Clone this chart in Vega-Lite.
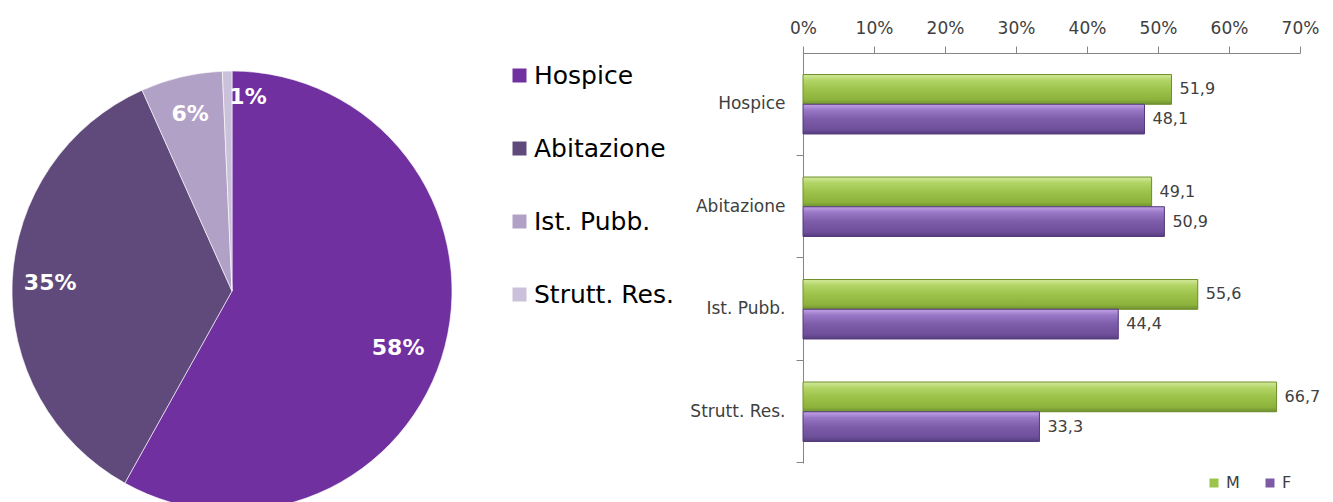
{
  "$schema": "https://vega.github.io/schema/vega-lite/v6.json",
  "padding": {"left": 10, "top": 19, "right": 0, "bottom": 0},
  "background": "white",
  "bounds": "flush",
  "spacing": 351,
  "config": {
    "view": {"stroke": null},
    "font": "DejaVu Sans",
    "locale": {"number": {"decimal": ",", "thousands": ".", "grouping": [3], "currency": ["€", ""]}}
  },
  "resolve": {"scale": {"color": "independent"}, "legend": {"color": "independent"}},
  "hconcat": [
    {
      "width": 440,
      "height": 476,
      "data": {"values": [
        {"luogo": "Hospice", "quota": 0.581, "ordine": 1},
        {"luogo": "Abitazione", "quota": 0.352, "ordine": 2},
        {"luogo": "Ist. Pubb.", "quota": 0.060, "ordine": 3},
        {"luogo": "Strutt. Res.", "quota": 0.007, "ordine": 4}
      ]},
      "encoding": {
        "theta": {"field": "quota", "type": "quantitative", "stack": true},
        "order": {"field": "ordine", "type": "quantitative", "sort": "ascending"}
      },
      "layer": [
        {
          "mark": {"type": "arc", "outerRadius": 220, "stroke": "#ffffff", "strokeWidth": 0.6},
          "encoding": {
            "color": {
              "field": "luogo", "type": "nominal",
              "scale": {"domain": ["Hospice", "Abitazione", "Ist. Pubb.", "Strutt. Res."], "range": ["#7030A0", "#604A7B", "#B2A1C7", "#CCC1DA"]},
              "legend": {
                "title": null, "orient": "none", "legendX": 495, "legendY": 10,
                "symbolType": "square", "symbolSize": 196, "symbolStrokeWidth": 0,
                "labelFontSize": 25, "labelColor": "#000000", "labelFont": "DejaVu Sans",
                "labelLimit": 400, "labelOffset": 2, "rowPadding": 47, "padding": 0
              }
            }
          }
        },
        {
          "mark": {"type": "text", "radius": 182, "fontSize": 22, "fontWeight": "bold", "fill": "#ffffff"},
          "encoding": {"text": {"condition": {"test": "datum.ordine == 2 || datum.ordine == 3", "field": "quota", "type": "quantitative", "format": ".0%"}, "value": ""}}
        },
        {
          "mark": {"type": "text", "radius": 182, "fontSize": 22, "fontWeight": "bold", "fill": "#ffffff", "dx": -10, "dy": 11},
          "encoding": {"text": {"condition": {"test": "datum.ordine == 1", "field": "quota", "type": "quantitative", "format": ".0%"}, "value": ""}}
        },
        {
          "mark": {"type": "text", "radius": 182, "fontSize": 22, "fontWeight": "bold", "fill": "#ffffff", "dx": 20, "dy": -12},
          "encoding": {"text": {"condition": {"test": "datum.ordine == 4", "field": "quota", "type": "quantitative", "format": ".0%"}, "value": ""}}
        }
      ]
    },
    {
      "width": 497,
      "height": 410,
      "data": {"values": [
        {"luogo": "Hospice", "sesso": "M", "perc": 51.9},
        {"luogo": "Hospice", "sesso": "F", "perc": 48.1},
        {"luogo": "Abitazione", "sesso": "M", "perc": 49.1},
        {"luogo": "Abitazione", "sesso": "F", "perc": 50.9},
        {"luogo": "Ist. Pubb.", "sesso": "M", "perc": 55.6},
        {"luogo": "Ist. Pubb.", "sesso": "F", "perc": 44.4},
        {"luogo": "Strutt. Res.", "sesso": "M", "perc": 66.7},
        {"luogo": "Strutt. Res.", "sesso": "F", "perc": 33.3}
      ]},
      "encoding": {
        "y": {
          "field": "luogo", "type": "nominal",
          "sort": ["Hospice", "Abitazione", "Ist. Pubb.", "Strutt. Res."],
          "scale": {"paddingInner": 0.42, "paddingOuter": 0.21},
          "axis": {
            "title": null, "bandPosition": 1.362, "tickSize": 7, "labelPadding": 11,
            "labelFontSize": 17, "labelColor": "#404040", "labelFont": "DejaVu Sans",
            "domainColor": "#868686", "tickColor": "#868686", "grid": false
          }
        },
        "yOffset": {"field": "sesso", "type": "nominal", "sort": ["M", "F"], "scale": {"paddingInner": 0, "paddingOuter": 0}},
        "x": {
          "field": "perc", "type": "quantitative",
          "scale": {"domain": [0, 70], "nice": false},
          "axis": {
            "orient": "top", "title": null, "values": [0, 10, 20, 30, 40, 50, 60, 70],
            "labelExpr": "datum.value + '%'", "labelFlush": false, "grid": false, "tickSize": 7, "labelPadding": 9,
            "labelFontSize": 17, "labelColor": "#404040", "labelFont": "DejaVu Sans",
            "domainColor": "#868686", "tickColor": "#868686"
          }
        }
      },
      "layer": [
        {
          "mark": {"type": "bar"},
          "encoding": {
            "color": {
              "field": "sesso", "type": "nominal",
              "scale": {"domain": ["M", "F"], "range": ["#9CC34B", "#7D5AA6"]},
              "legend": {
                "title": null, "orient": "none", "direction": "horizontal",
                "legendX": 403, "legendY": 422, "symbolType": "square", "symbolSize": 81,
                "symbolStrokeWidth": 0, "labelFontSize": 16, "labelColor": "#404040",
                "labelFont": "DejaVu Sans", "labelOffset": 4, "columnPadding": 22, "padding": 0
              }
            }
          }
        },
        {
          "transform": [{"filter": "datum.sesso == 'M'"}],
          "mark": {
            "type": "bar", "stroke": "#6E8F2C", "strokeWidth": 1,
            "fill": {"gradient": "linear", "x1": 0, "y1": 0, "x2": 0, "y2": 1, "stops": [
              {"offset": 0, "color": "#D3EA9C"}, {"offset": 0.2, "color": "#B2D466"},
              {"offset": 0.5, "color": "#9DC34A"}, {"offset": 0.85, "color": "#8DB23C"}, {"offset": 1, "color": "#6F9030"}]}
          }
        },
        {
          "transform": [{"filter": "datum.sesso == 'F'"}],
          "mark": {
            "type": "bar", "stroke": "#553B7C", "strokeWidth": 1,
            "fill": {"gradient": "linear", "x1": 0, "y1": 0, "x2": 0, "y2": 1, "stops": [
              {"offset": 0, "color": "#C2A2E6"}, {"offset": 0.2, "color": "#9878C6"},
              {"offset": 0.5, "color": "#7D5CAA"}, {"offset": 0.85, "color": "#6E4F9A"}, {"offset": 1, "color": "#553D7E"}]}
          }
        },
        {
          "mark": {"type": "text", "align": "left", "baseline": "middle", "dx": 8, "fontSize": 16, "fill": "#404040"},
          "encoding": {"text": {"field": "perc", "type": "quantitative", "format": ".1f"}}
        }
      ]
    }
  ]
}
